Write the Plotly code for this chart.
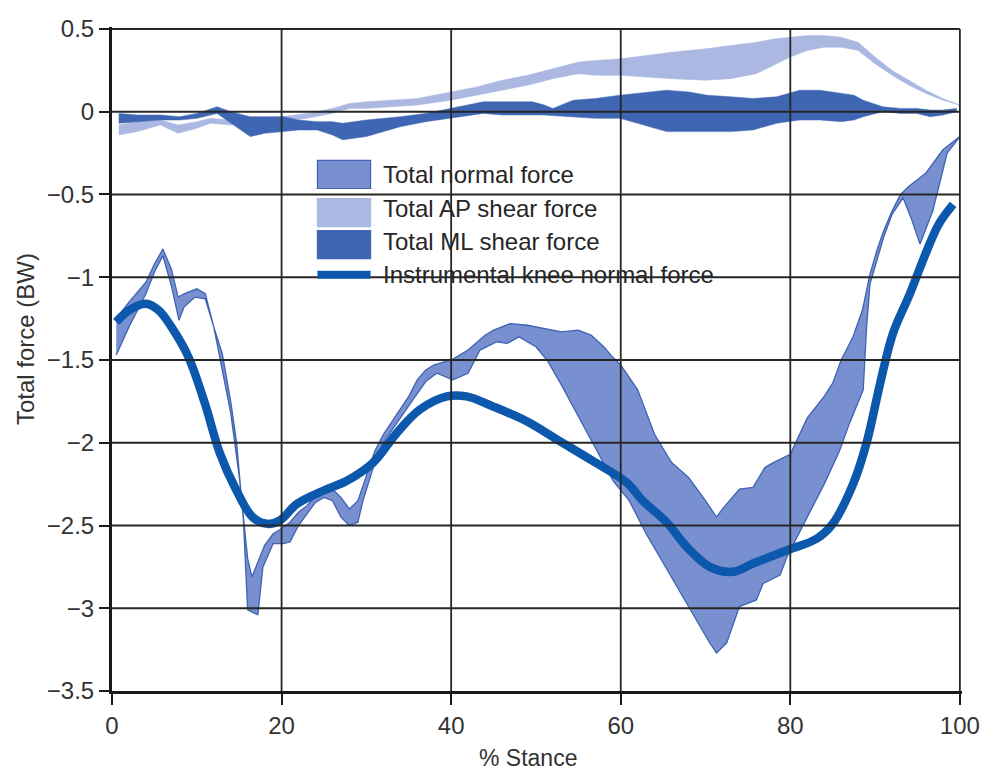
import plotly.graph_objects as go

# ---- Total normal force band (upper / lower boundaries, BW) ----
normal_up_x = [0.5, 2, 4, 5, 6, 7, 7.8, 8.5, 10, 11, 12, 13, 14, 15, 16, 16.5, 17, 17.5, 18, 19,
               20, 21, 22, 23, 24, 25, 26, 27, 28, 29, 30, 31, 32, 34, 35, 36, 37, 38, 40, 42,
               44, 45, 47, 49, 51, 53, 55, 56.5, 58, 59, 60, 62, 64, 66, 68, 70, 71.3, 72, 74,
               75.6, 77, 78, 80, 82, 84, 85, 86, 87.4, 88.5, 89.4, 90.2, 91, 92, 93, 94, 96, 98, 100]
normal_up_y = [-1.25, -1.15, -1.03, -0.92, -0.83, -0.95, -1.12, -1.10, -1.07, -1.10, -1.30, -1.55,
               -1.82, -2.20, -2.70, -2.81, -2.75, -2.68, -2.62, -2.55, -2.52, -2.48, -2.42, -2.38,
               -2.32, -2.28, -2.28, -2.33, -2.40, -2.35, -2.20, -2.05, -1.95, -1.80, -1.72, -1.62,
               -1.56, -1.53, -1.50, -1.44, -1.35, -1.32, -1.28, -1.29, -1.31, -1.33, -1.32, -1.35,
               -1.42, -1.48, -1.53, -1.68, -1.95, -2.12, -2.21, -2.35, -2.45, -2.40, -2.28, -2.27,
               -2.15, -2.12, -2.07, -1.85, -1.72, -1.64, -1.50, -1.36, -1.20, -0.98, -0.84, -0.72,
               -0.60, -0.50, -0.45, -0.37, -0.23, -0.15]
normal_lo_x = [0.5, 2, 4, 5, 6, 7, 7.9, 8.5, 9.8, 11, 12, 13, 14, 14.7, 15.5, 16, 17.2, 17.8, 19,
               20.2, 21, 22, 23, 24, 25, 26, 27, 28, 29, 29.6, 31, 32, 34, 35.5, 37, 38.3, 40.2,
               42, 43.4, 45.4, 46.6, 48, 50, 51.3, 53, 55.2, 57, 59.1, 61, 63, 64.6, 67.3, 70.5,
               71.3, 72.5, 74, 76, 76.8, 78.8, 79.6, 82, 84, 85.8, 87, 88.6, 89, 89.4, 90.2, 91,
               92, 93.3, 94.3, 95.3, 96.8, 98.5, 100]
normal_lo_y = [-1.47, -1.30, -1.10, -0.97, -0.87, -1.05, -1.26, -1.18, -1.12, -1.13, -1.30, -1.46,
               -1.75, -2.00, -2.47, -3.01, -3.04, -2.75, -2.61, -2.61, -2.60, -2.50, -2.43, -2.36,
               -2.33, -2.35, -2.45, -2.50, -2.48, -2.35, -2.12, -2.00, -1.85, -1.74, -1.63, -1.58,
               -1.62, -1.58, -1.44, -1.39, -1.40, -1.36, -1.42, -1.50, -1.65, -1.86, -2.03, -2.23,
               -2.35, -2.55, -2.69, -2.93, -3.21, -3.27, -3.21, -2.99, -2.95, -2.85, -2.80, -2.69,
               -2.45, -2.25, -2.05, -1.88, -1.68, -1.30, -1.04, -0.90, -0.76, -0.62, -0.52, -0.65,
               -0.80, -0.60, -0.25, -0.15]

# ---- Total AP shear force band ----
ap_x = [0.8, 3, 5.7, 7.8, 10, 11.6, 14, 17, 20, 23, 26, 28, 30, 33, 36, 40, 43, 46, 49, 52, 55,
        57, 60, 63, 66, 70, 73, 76, 78, 80, 82, 84, 86, 88, 90, 92, 94, 96, 98, 100]
ap_up = [-0.08, -0.06, -0.05, -0.08, -0.06, -0.04, -0.05, -0.05, -0.03, -0.01, 0.02, 0.05, 0.06,
         0.07, 0.08, 0.12, 0.15, 0.19, 0.22, 0.26, 0.30, 0.31, 0.32, 0.34, 0.36, 0.38, 0.40, 0.42,
         0.44, 0.45, 0.46, 0.46, 0.45, 0.42, 0.33, 0.25, 0.19, 0.13, 0.08, 0.04]
ap_lo = [-0.14, -0.12, -0.08, -0.13, -0.10, -0.07, -0.08, -0.08, -0.06, -0.04, -0.01, 0.02, 0.02,
         0.03, 0.04, 0.07, 0.10, 0.13, 0.16, 0.20, 0.23, 0.22, 0.22, 0.21, 0.20, 0.19, 0.20, 0.23,
         0.28, 0.33, 0.37, 0.39, 0.39, 0.37, 0.29, 0.22, 0.16, 0.11, 0.07, 0.04]

# ---- Total ML shear force band ----
ml_x = [0.8, 3, 5.7, 8, 10, 12.4, 14, 16.3, 18, 20.2, 22, 24.2, 26, 27.2, 30, 32, 34, 37, 40,
        43.8, 46, 49.6, 51, 52, 54.4, 57, 59.9, 62, 65.4, 68, 70.2, 73, 75.6, 78.4, 81.1, 83.5,
        86, 87.5, 88.6, 90.9, 93, 94.9, 96.5, 98, 99.6]
ml_up = [-0.01, -0.02, -0.02, -0.03, -0.01, 0.03, 0.00, -0.03, -0.03, -0.03, -0.05, -0.06, -0.06,
         -0.07, -0.05, -0.04, -0.03, -0.01, 0.02, 0.06, 0.06, 0.06, 0.04, 0.02, 0.07, 0.08, 0.10,
         0.11, 0.13, 0.12, 0.10, 0.09, 0.08, 0.09, 0.13, 0.13, 0.11, 0.10, 0.07, 0.03, 0.02, 0.02,
         0.01, 0.01, 0.02]
ml_lo = [-0.07, -0.06, -0.05, -0.05, -0.04, -0.01, -0.07, -0.15, -0.13, -0.12, -0.11, -0.11, -0.14,
         -0.17, -0.15, -0.12, -0.09, -0.06, -0.04, -0.01, -0.02, -0.02, -0.02, -0.02, -0.03, -0.04,
         -0.04, -0.07, -0.12, -0.12, -0.12, -0.12, -0.11, -0.07, -0.05, -0.05, -0.06, -0.05, -0.03,
         0.00, -0.01, -0.01, -0.03, -0.02, 0.00]

# ---- Instrumented knee normal force ----
knee_x = [0.5, 2, 4, 5.5, 7, 9, 11, 12.7, 14.7, 16.6, 18.3, 19.8, 21.8, 24.9, 27.7, 30.8, 33.6,
          36.3, 39.5, 41.8, 44.9, 48.9, 52.8, 56.7, 60.7, 62.6, 65.4, 67.8, 70.5, 73.2, 75.6,
          79.6, 83.1, 85, 87.4, 89, 90.6, 92.1, 94.1, 96.1, 97.5, 99.2]
knee_y = [-1.27, -1.20, -1.16, -1.20, -1.30, -1.48, -1.77, -2.06, -2.29, -2.45, -2.49, -2.47,
          -2.37, -2.29, -2.23, -2.12, -1.94, -1.80, -1.72, -1.72, -1.78, -1.87, -1.99, -2.11,
          -2.24, -2.35, -2.48, -2.63, -2.75, -2.78, -2.73, -2.65, -2.58, -2.49, -2.25, -2.00,
          -1.64, -1.34, -1.10, -0.84, -0.68, -0.56]

# ---- Axes ----
x_ticks = [0, 20, 40, 60, 80, 100]
x_labels = ["0", "20", "40", "60", "80", "100"]
y_ticks = [0.5, 0, -0.5, -1, -1.5, -2, -2.5, -3, -3.5]
y_labels = ["0.5", "0", "\u22120.5", "\u22121", "\u22121.5", "\u22122", "\u22122.5", "\u22123", "\u22123.5"]

series_names = ["Total normal force", "Total AP shear force", "Total ML shear force",
                "Instrumental knee normal force"]

C_NORMAL = "#7890cf"
C_NORMAL_EDGE = "#3f63b2"
C_AP = "#aab8e2"
C_ML = "#3e66b3"
C_KNEE = "#0c58ad"
FONT = "Liberation Sans, Arial, Helvetica, sans-serif"
TXT = "#333333"


def band(xu, yu, xl, yl):
    return list(xu) + list(xl)[::-1], list(yu) + list(yl)[::-1]


fig = go.Figure()

bx, by = band(ap_x, ap_up, ap_x, ap_lo)
fig.add_trace(go.Scatter(x=bx, y=by, fill="toself", fillcolor=C_AP, mode="lines",
                         line=dict(width=0.5, color=C_AP), name=series_names[1],
                         showlegend=False, hoverinfo="skip"))

bx, by = band(ml_x, ml_up, ml_x, ml_lo)
fig.add_trace(go.Scatter(x=bx, y=by, fill="toself", fillcolor=C_ML, mode="lines",
                         line=dict(width=0.5, color=C_ML), name=series_names[2],
                         showlegend=False, hoverinfo="skip"))

bx, by = band(normal_up_x, normal_up_y, normal_lo_x, normal_lo_y)
fig.add_trace(go.Scatter(x=bx, y=by, fill="toself", fillcolor=C_NORMAL, mode="lines",
                         line=dict(width=1.3, color=C_NORMAL_EDGE), name=series_names[0],
                         showlegend=False, hoverinfo="skip"))

fig.add_trace(go.Scatter(x=knee_x, y=knee_y, mode="lines", line_shape="spline",
                         line=dict(width=8.5, color=C_KNEE), name=series_names[3],
                         showlegend=False, hoverinfo="skip"))

X_RANGE = [0, 100.25]
Y_RANGE = [-3.5, 0.512]

# grid drawn over the data
shapes = []
for v in x_ticks[1:]:
    shapes.append(dict(type="line", xref="x", yref="y", x0=v, x1=v, y0=Y_RANGE[0], y1=y_ticks[0],
                       line=dict(color="#262626", width=1.8), layer="above"))
for v in y_ticks[:-1]:
    shapes.append(dict(type="line", xref="x", yref="y", x0=X_RANGE[0], x1=x_ticks[-1], y0=v, y1=v,
                       line=dict(color="#262626", width=1.8), layer="above"))

# hand-placed legend
legend_rows = [0.7779, 0.7266, 0.6767, 0.6269]
box_rows = [(0.7568, 0.7991), (0.6994, 0.7417), (0.6511, 0.6934)]
box_fill = [C_NORMAL, C_AP, C_ML]
box_edge = [C_NORMAL_EDGE, C_AP, C_ML]
LX0, LX1, TX = 0.2417, 0.3042, 0.3160
for (y0, y1), fc, ec in zip(box_rows, box_fill, box_edge):
    shapes.append(dict(type="rect", xref="paper", yref="paper", x0=LX0, x1=LX1, y0=y0, y1=y1,
                       fillcolor=fc, line=dict(color=ec, width=1.2), layer="above"))
shapes.append(dict(type="line", xref="paper", yref="paper", x0=LX0, x1=LX1,
                   y0=legend_rows[3], y1=legend_rows[3],
                   line=dict(color=C_KNEE, width=8), layer="above"))

annotations = []
for name, yy in zip(series_names, legend_rows):
    annotations.append(dict(text=name, xref="paper", yref="paper", x=TX, y=yy,
                            xanchor="left", yanchor="middle", showarrow=False,
                            font=dict(family=FONT, size=24, color="#262626")))

annotations.append(dict(text="% Stance", xref="paper", yref="paper", x=0.489, y=0, yshift=-67,
                        xanchor="center", yanchor="middle", showarrow=False,
                        font=dict(family=FONT, size=23, color=TXT)))
annotations.append(dict(text="Total force (BW)", xref="paper", yref="paper", x=0, y=0.53,
                        xshift=-87, textangle=-90, xanchor="center", yanchor="middle",
                        showarrow=False, font=dict(family=FONT, size=24, color=TXT)))

fig.update_layout(
    width=991, height=772,
    margin=dict(l=112, r=29, t=27, b=81),
    paper_bgcolor="white", plot_bgcolor="white",
    shapes=shapes, annotations=annotations,
    showlegend=False,
)
fig.update_xaxes(range=X_RANGE, tickvals=x_ticks, ticktext=x_labels, showgrid=False,
                 zeroline=False, showline=True, linewidth=3, linecolor="#1a1a1a",
                 ticks="outside", ticklen=11, tickwidth=2, tickcolor="#1a1a1a",
                 tickfont=dict(family=FONT, size=24, color=TXT), layer="above traces")
fig.update_yaxes(range=Y_RANGE, tickvals=y_ticks, ticktext=y_labels, showgrid=False,
                 zeroline=False, showline=True, linewidth=3, linecolor="#1a1a1a",
                 ticks="outside", ticklen=10, tickwidth=2, tickcolor="#1a1a1a",
                 tickfont=dict(family=FONT, size=24, color=TXT), layer="above traces")

fig.write_html("out.html")
